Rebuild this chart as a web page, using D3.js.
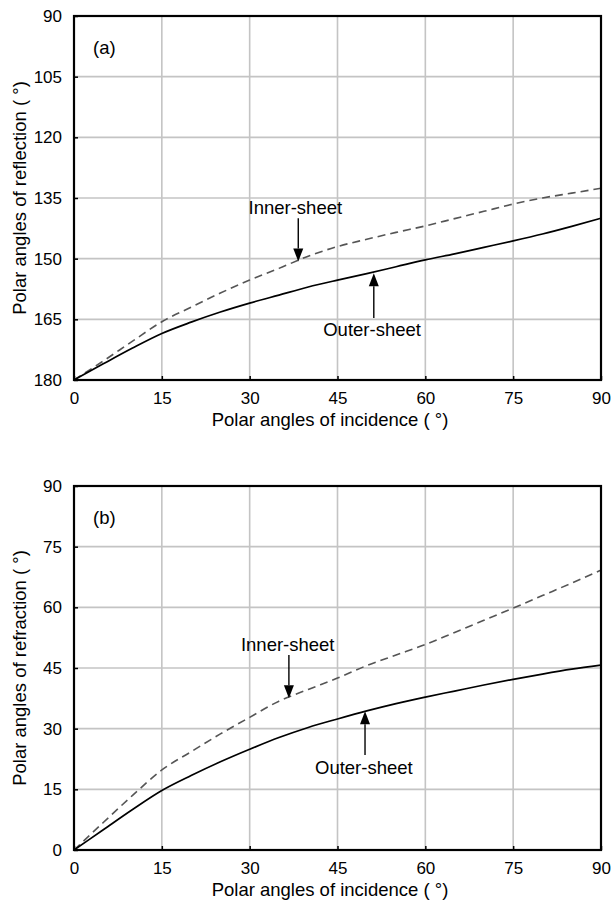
<!DOCTYPE html>
<html><head><meta charset="utf-8">
<script src="https://cdn.jsdelivr.net/npm/d3@7"></script>
<style>
body{margin:0;background:#fff;}
svg{display:block;font-family:Arial,"Liberation Sans",sans-serif;}
</style></head><body>
<svg id="c" width="612" height="902"></svg>
<script>
// ---- data ----
const incidence = [0,5,10,15,20,25,30,35,40,45,50,55,60,65,70,75,80,85,90];
const reflOuter = [180,176.0,172.1,168.5,165.7,163.2,161.0,159.0,157.0,155.3,153.7,152.0,150.3,148.8,147.2,145.6,143.9,142.0,140.0];
const reflInner = [180,175.3,170.4,165.6,162.0,158.5,155.3,152.4,149.4,147.0,145.2,143.5,141.9,140.1,138.3,136.5,135.0,133.8,132.6];
const refrOuter = [0,5.0,10.0,14.7,18.4,21.8,24.9,27.8,30.3,32.4,34.4,36.2,37.8,39.3,40.8,42.2,43.5,44.7,45.7];
const refrInner = [0,6.8,13.5,19.8,24.3,28.7,32.8,36.8,39.7,42.5,45.6,48.2,50.8,53.8,56.8,59.8,62.9,66.0,69.2];
const xTicks = [0,15,30,45,60,75,90];
const yTicksA = [90,105,120,135,150,165,180];
const yTicksB = [0,15,30,45,60,75,90];
// annotations (data units): label, arrow x, tail value, tip value, text x, text baseline value
const annotA = [
  {label:"Inner-sheet", ax:38.3, tail:140.0, tip:150.7, tx:37.8, ty:139.0},
  {label:"Outer-sheet", ax:51.2, tail:164.7, tip:153.6, tx:50.9, ty:169.2}
];
const annotB = [
  {label:"Inner-sheet", ax:36.7, tail:48.2, tip:37.5, tx:36.5, ty:49.3},
  {label:"Outer-sheet", ax:49.7, tail:23.5, tip:34.3, tx:49.5, ty:18.9}
];

const svg = d3.select("#c");
const L = 74, R = 601;
const x = d3.scaleLinear().domain([0,90]).range([L,R]);

function panel(cfg){
  const {top, bottom, y, yTicks, outer, inner, annot, tag, ytitle} = cfg;
  const g = svg.append("g");
  // grid
  g.append("g").selectAll("line").data(xTicks.slice(1,-1)).join("line")
    .attr("x1",d=>x(d)).attr("x2",d=>x(d)).attr("y1",top).attr("y2",bottom)
    .attr("stroke","#c4c4c4").attr("stroke-width",1.6);
  g.append("g").selectAll("line").data(yTicks.slice(1,-1)).join("line")
    .attr("y1",d=>y(d)).attr("y2",d=>y(d)).attr("x1",L).attr("x2",R)
    .attr("stroke","#c4c4c4").attr("stroke-width",1.6);
  // axes
  const xa = g.append("g").attr("transform",`translate(0,${bottom})`)
    .call(d3.axisBottom(x).tickValues(xTicks).tickSizeInner(-4).tickSizeOuter(0).tickPadding(12));
  const ya = g.append("g").attr("transform",`translate(${L},0)`)
    .call(d3.axisLeft(y).tickValues(yTicks).tickSizeInner(-4).tickSizeOuter(0).tickPadding(12));
  [xa,ya].forEach(a=>{
    a.select(".domain").remove();
    a.selectAll("line").attr("stroke","#000").attr("stroke-width",1.5);
    a.selectAll("text").attr("font-size",17).attr("fill","#000").attr("font-family","Arial, 'Liberation Sans', sans-serif");
  });
  // lines
  const line = d3.line().x((d,i)=>x(incidence[i])).y(d=>y(d)).curve(d3.curveMonotoneX);
  g.append("path").attr("d",line(inner)).attr("fill","none").attr("stroke","#555")
    .attr("stroke-width",1.6).attr("stroke-dasharray","8,5");
  g.append("path").attr("d",line(outer)).attr("fill","none").attr("stroke","#000")
    .attr("stroke-width",1.7);
  // frame
  g.append("rect").attr("x",L).attr("y",top).attr("width",R-L).attr("height",bottom-top)
    .attr("fill","none").attr("stroke","#000").attr("stroke-width",2.2);
  // tag
  g.append("text").attr("x",93).attr("y",top+38).attr("font-size",18.5).text(tag);
  // titles
  g.append("text").attr("x",330).attr("y",bottom+46).attr("text-anchor","middle")
    .attr("font-size",18.5).text("Polar angles of incidence ( °)");
  g.append("text").attr("transform",`translate(26,${(top+bottom)/2}) rotate(-90)`)
    .attr("text-anchor","middle").attr("font-size",18.5).text(ytitle);
  // annotations
  annot.forEach(a=>{
    const ax = x(a.ax), y0 = y(a.tail), y1 = y(a.tip);
    const dir = y1 > y0 ? 1 : -1;
    const hl = 13, hw = 5;
    g.append("line").attr("x1",ax).attr("x2",ax).attr("y1",y0).attr("y2",y1 - dir*hl)
      .attr("stroke","#000").attr("stroke-width",1.4);
    g.append("path").attr("d",`M${ax},${y1} L${ax-hw},${y1-dir*hl} L${ax+hw},${y1-dir*hl} Z`).attr("fill","#000");
    g.append("text").attr("x",x(a.tx)).attr("y",y(a.ty)).attr("text-anchor","middle")
      .attr("font-size",18.5).text(a.label);
  });
}

panel({top:16,bottom:380,y:d3.scaleLinear().domain([90,180]).range([16,380]),
  yTicks:yTicksA, outer:reflOuter, inner:reflInner, annot:annotA, tag:"(a)",
  ytitle:"Polar angles of reflection ( °)"});
panel({top:486,bottom:850,y:d3.scaleLinear().domain([0,90]).range([850,486]),
  yTicks:yTicksB, outer:refrOuter, inner:refrInner, annot:annotB, tag:"(b)",
  ytitle:"Polar angles of refraction ( °)"});
</script>
</body></html>
